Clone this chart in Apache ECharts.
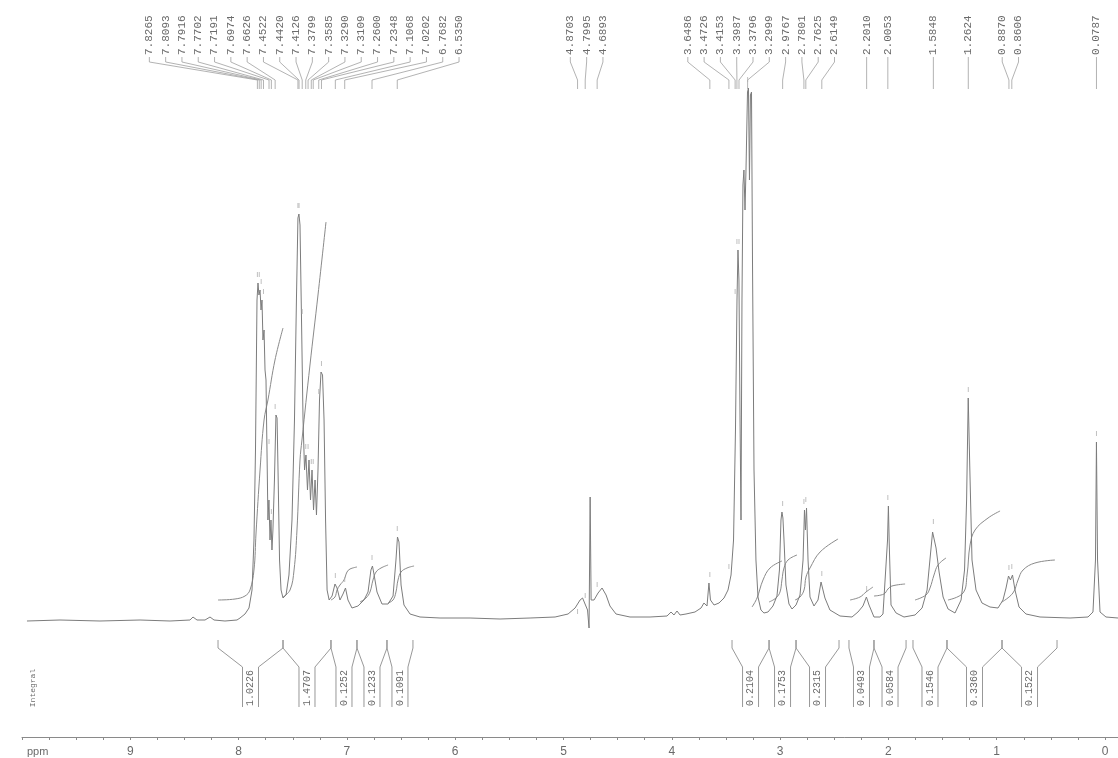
<!DOCTYPE html>
<html>
<head>
<meta charset="utf-8">
<script src="https://cdn.jsdelivr.net/npm/echarts@6/dist/echarts.min.js"></script>
<style>html,body{margin:0;padding:0;background:#fff}#c{width:1118px;height:758px}</style>
</head>
<body>
<div id="c"></div>
<script>
// ---- data: 1H NMR spectrum, [ppm, intensity (a.u.)] ----
const spectrum = [
[9.954,-1],[9.649,0],[9.280,-1],[8.910,0],[8.633,-1],[8.449,0],[8.421,3],[8.384,0],[8.310,0],[8.264,3],[8.227,0],[8.126,-1],[8.015,0],
[7.987,2],[7.941,6],[7.904,12],[7.876,30],[7.858,80],[7.844,170],[7.830,320],[7.821,337],[7.812,325],[7.802,330],[7.793,310],[7.784,320],
[7.775,280],[7.765,290],[7.756,250],[7.747,240],[7.738,170],[7.729,100],[7.720,120],[7.710,80],[7.701,100],[7.692,70],[7.683,90],[7.669,140],
[7.655,205],[7.645,202],[7.636,150],[7.622,60],[7.608,30],[7.590,22],[7.562,25],[7.535,45],[7.507,100],[7.484,200],[7.466,320],[7.452,402],
[7.443,406],[7.433,395],[7.419,300],[7.405,200],[7.391,150],[7.378,165],[7.364,130],[7.350,160],[7.336,120],[7.322,150],[7.308,110],[7.294,140],
[7.281,105],[7.267,150],[7.253,220],[7.239,248],[7.225,245],[7.211,200],[7.197,100],[7.183,30],[7.164,20],[7.137,24],[7.110,36],[7.091,32],
[7.064,20],[7.036,26],[7.013,32],[6.990,20],[6.953,12],[6.898,14],[6.842,20],[6.805,28],[6.778,50],[6.764,54],[6.750,46],[6.722,28],[6.676,16],
[6.620,16],[6.574,24],[6.547,60],[6.533,83],[6.519,78],[6.500,35],[6.473,15],[6.417,6],[6.325,3],[6.140,2],[5.863,2],[5.586,1],[5.309,2],
[5.078,3],[4.958,6],[4.893,12],[4.847,20],[4.824,22],[4.801,16],[4.778,10],[4.764,-8],[4.754,123],[4.745,20],[4.718,20],[4.681,27],[4.644,32],
[4.607,25],[4.571,14],[4.515,6],[4.386,3],[4.201,3],[4.044,4],[4.007,8],[3.980,5],[3.952,9],[3.924,5],[3.869,6],[3.786,8],[3.730,12],[3.703,17],
[3.675,14],[3.657,37],[3.643,20],[3.610,15],[3.564,17],[3.518,22],[3.481,30],[3.453,45],[3.430,80],[3.412,190],[3.398,320],[3.389,370],[3.380,340],
[3.370,200],[3.361,100],[3.352,320],[3.343,435],[3.334,450],[3.324,410],[3.315,450],[3.301,528],[3.292,532],[3.283,440],[3.274,525],[3.264,528],
[3.255,360],[3.241,150],[3.223,60],[3.204,23],[3.177,10],[3.149,7],[3.112,8],[3.066,14],[3.029,24],[3.006,50],[2.992,100],[2.983,108],[2.974,102],
[2.964,80],[2.946,35],[2.918,16],[2.890,11],[2.853,15],[2.816,25],[2.788,60],[2.775,110],[2.766,90],[2.756,112],[2.742,60],[2.724,23],[2.687,14],
[2.650,20],[2.622,38],[2.608,38],[2.586,22],[2.540,10],[2.447,4],[2.336,3],[2.281,8],[2.235,14],[2.203,23],[2.179,15],[2.133,3],[2.078,3],
[2.050,6],[2.008,80],[2.000,114],[1.992,75],[1.976,15],[1.929,7],[1.856,3],[1.754,5],[1.689,12],[1.643,30],[1.615,62],[1.592,88],[1.578,90],
[1.560,72],[1.532,48],[1.495,23],[1.449,11],[1.385,7],[1.329,20],[1.297,50],[1.278,120],[1.263,222],[1.248,150],[1.228,60],[1.191,30],[1.136,17],
[1.062,13],[0.988,12],[0.942,20],[0.914,32],[0.891,44],[0.873,40],[0.854,45],[0.831,30],[0.794,13],[0.730,6],[0.600,3],[0.323,2],[0.157,3],
[0.111,8],[0.088,60],[0.079,178],[0.069,60],[0.046,8],[-0.009,3],[-0.120,2]
];

// peak-picking labels (ppm)
const peakLabels = [7.8265,7.8093,7.7916,7.7702,7.7191,7.6974,7.6626,7.4522,7.4420,7.4126,7.3799,7.3585,7.3290,7.3109,7.2600,7.2348,7.1068,7.0202,6.7682,6.5350,
4.8703,4.7995,4.6893,
3.6486,3.4726,3.4153,3.3987,3.3796,3.2999,2.9767,2.7801,2.7625,2.6149,
2.2010,2.0053,1.5848,1.2624,0.8870,0.8606,0.0787];

// integral regions (ppm) and values
const integralStart = [8.190,7.590,7.147,6.907,6.630, 3.444,3.102,2.853, 2.364,2.133, 1.773,1.459,0.951];
const integralEnd   = [7.590,7.147,6.907,6.630,6.390, 3.102,2.853,2.456, 2.133,1.837, 1.459,0.951,0.443];
const integralValues = ['1.0226','1.4707','0.1252','0.1233','0.1091','0.2104','0.1753','0.2315','0.0493','0.0584','0.1546','0.3360','0.1522'];

// integral curves [ppm, level]
const intCurve1 = [[8.190,20],[8.033,21],[7.941,24],[7.895,30],[7.858,50],[7.839,87],[7.802,150],[7.765,200],[7.729,220],[7.664,260],[7.590,292]];
const intCurve2 = [[7.590,23],[7.525,30],[7.488,50],[7.461,90],[7.433,160],[7.415,180],[7.341,255],[7.267,325],[7.193,398]];
const intCurve3 = [[7.147,20],[7.110,23],[7.091,30],[7.064,35],[7.027,40],[6.999,48],[6.971,51],[6.907,53]];
const intCurve4 = [[6.879,18],[6.824,22],[6.787,28],[6.759,40],[6.731,48],[6.685,52],[6.620,55]];
const intCurve5 = [[6.620,17],[6.574,20],[6.547,28],[6.528,40],[6.500,48],[6.445,52],[6.380,54]];
const intCurve6 = [[3.259,13],[3.213,22],[3.158,40],[3.093,52],[2.983,59]];
const intCurve7 = [[3.102,18],[3.038,22],[3.001,28],[2.983,40],[2.964,52],[2.927,60],[2.844,65]];
const intCurve8 = [[2.862,20],[2.816,23],[2.779,30],[2.761,43],[2.724,52],[2.631,68],[2.465,81]];
const intCurve9 = [[2.354,20],[2.262,23],[2.207,28],[2.142,33]];
const intCurve10 = [[2.133,24],[2.041,26],[2.004,31],[1.967,34],[1.846,36]];
const intCurve11 = [[1.754,20],[1.653,25],[1.616,32],[1.579,45],[1.542,55],[1.468,62]];
const intCurve12 = [[1.450,20],[1.311,27],[1.274,45],[1.246,75],[1.200,90],[1.080,102],[0.969,109]];
const intCurve13 = [[0.951,18],[0.850,27],[0.803,40],[0.757,50],[0.647,57],[0.462,60]];
const integralCurves = [intCurve1,intCurve2,intCurve3,intCurve4,intCurve5,intCurve6,intCurve7,intCurve8,intCurve9,intCurve10,intCurve11,intCurve12,intCurve13];

// axis tick labels
const xTickLabels = [9,8,7,6,5,4,3,2,1,0];

// ---- chart ----
const GREY = '#7c7c7c';
const TXT = '#6a6a6a';
const quarterTicks = [];
for (let i = 0; i <= 40; i++) quarterTicks.push(10 - i * 0.25);

function layoutLabels(px, gap) {
  let cl = px.map(p => ({ items: [p] }));
  const first = c => { const m = c.items.reduce((a, b) => a + b, 0) / c.items.length; return m - (c.items.length - 1) * gap / 2; };
  let changed = true;
  while (changed) {
    changed = false;
    for (let i = 0; i < cl.length - 1; i++) {
      const a = cl[i], b = cl[i + 1];
      const aLast = first(a) + (a.items.length - 1) * gap;
      if (first(b) - aLast < gap) {
        cl.splice(i, 2, { items: a.items.concat(b.items) });
        changed = true; break;
      }
    }
  }
  const out = [];
  cl.forEach(c => { const f = first(c); c.items.forEach((_, k) => out.push(f + k * gap)); });
  return out;
}

function localMax(p, w) {
  let m = -Infinity;
  spectrum.forEach(d => { if (Math.abs(d[0] - p) <= w && d[1] > m) m = d[1]; });
  return m === -Infinity ? 0 : m;
}

const chart = echarts.init(document.getElementById('c'), null, { renderer: 'canvas' });

const series = [];
series.push({
  type: 'line', data: spectrum, showSymbol: false, symbol: 'none', smooth: false,
  lineStyle: { color: GREY, width: 1 }, silent: true, z: 3, animation: false
});
integralCurves.forEach(c => series.push({
  type: 'line', data: c, showSymbol: false, symbol: 'none', smooth: 0.4,
  lineStyle: { color: '#8a8a8a', width: 1 }, silent: true, z: 2, animation: false
}));

// peak labels + connectors + peak markers
series.push({
  type: 'custom', data: [[5, 0]], silent: true, animation: false, clip: false, z: 5,
  renderItem: function (params, api) {
    const px = peakLabels.map(p => api.coord([p, 0])[0]);
    const lx = layoutLabels(px, 16.3);
    const children = [];
    peakLabels.forEach((p, i) => {
      children.push({
        type: 'text', x: lx[i], y: 55, rotation: Math.PI / 2,
        style: { text: p.toFixed(4), fill: TXT, font: '11px "Liberation Mono", monospace', align: 'left', verticalAlign: 'middle' }
      });
      children.push({
        type: 'polyline', shape: { points: [[lx[i], 57], [lx[i], 62], [px[i], 80], [px[i], 89]] },
        style: { stroke: '#a0a0a0', fill: null, lineWidth: 0.8 }
      });
      const top = api.coord([p, localMax(p, 0.02)])[1];
      children.push({
        type: 'line', shape: { x1: px[i], y1: top - 11, x2: px[i], y2: top - 6 },
        style: { stroke: '#b0b0b0', lineWidth: 0.8 }
      });
    });
    return { type: 'group', children: children };
  }
});

// integral brackets + values
series.push({
  type: 'custom', data: [[5, 0]], silent: true, animation: false, clip: false, z: 5,
  renderItem: function (params, api) {
    const children = [];
    integralValues.forEach((v, i) => {
      const x1 = api.coord([integralStart[i], 0])[0];
      const x2 = api.coord([integralEnd[i], 0])[0];
      const cx = (x1 + x2) / 2, hw = 8;
      const st = { stroke: '#8c8c8c', fill: null, lineWidth: 0.9 };
      children.push({ type: 'line', shape: { x1: x1, y1: 640, x2: x1, y2: 648 }, style: st });
      children.push({ type: 'line', shape: { x1: x2, y1: 640, x2: x2, y2: 648 }, style: st });
      children.push({ type: 'polyline', shape: { points: [[x1, 648], [cx - hw, 667], [cx - hw, 707]] }, style: st });
      children.push({ type: 'polyline', shape: { points: [[x2, 648], [cx + hw, 667], [cx + hw, 707]] }, style: st });
      children.push({
        type: 'text', x: cx, y: 688, rotation: Math.PI / 2,
        style: { text: v, fill: TXT, font: '10px "Liberation Mono", monospace', align: 'center', verticalAlign: 'middle' }
      });
    });
    const xi = api.coord([9.9, 0])[0];
    children.push({
      type: 'text', x: xi, y: 688, rotation: Math.PI / 2,
      style: { text: 'Integral', fill: TXT, font: '8px "Liberation Mono", monospace', align: 'center', verticalAlign: 'middle' }
    });
    const xp = api.coord([10, 0])[0] + 5;
    children.push({
      type: 'text', x: xp, y: 752,
      style: { text: 'ppm', fill: TXT, font: '11px "Liberation Sans", sans-serif', align: 'left', verticalAlign: 'middle' }
    });
    return { type: 'group', children: children };
  }
});

chart.setOption({
  animation: false,
  backgroundColor: '#ffffff',
  grid: { left: 22, right: 0, top: 0, bottom: 21 },
  xAxis: {
    type: 'value', min: -0.12, max: 10, inverse: true,
    splitLine: { show: false },
    axisLine: { show: true, onZero: false, lineStyle: { color: '#8a8a8a', width: 1 } },
    axisTick: { show: true, customValues: quarterTicks, length: 3, lineStyle: { color: '#8a8a8a' } },
    axisLabel: { customValues: xTickLabels, color: TXT, fontSize: 12, margin: 9, fontFamily: '"Liberation Sans", sans-serif' }
  },
  yAxis: { type: 'value', min: -117, max: 620, show: false },
  series: series
});
</script>
</body>
</html>
